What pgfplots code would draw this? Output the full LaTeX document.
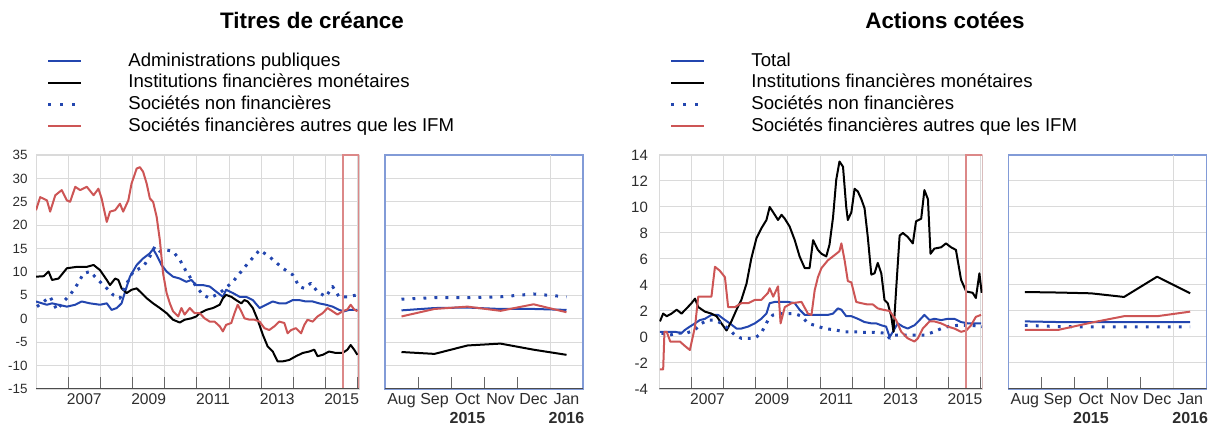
\documentclass[border=0pt]{standalone}
\usepackage{pgfplots}
\pgfplotsset{compat=1.18}
\usepackage{fontspec}
\setmainfont{Liberation Sans}
\definecolor{cblue}{RGB}{35,70,175}
\definecolor{cred}{RGB}{205,85,85}
\definecolor{cgrid}{RGB}{218,218,218}
\definecolor{cframe}{RGB}{130,155,215}
\definecolor{ctext}{RGB}{45,45,45}
\pgfplotsset{
  common/.style={scale only axis, height=117pt, anchor=north west, no markers,
    grid=major, grid style={draw=cgrid, line width=0.5pt},
    xtick pos=left, ytick pos=left, tick align=inside,
    ytick style={draw=none},
    xtick style={draw=black!60, line width=0.5pt},
    every axis plot/.append style={line join=round}},
  mainax/.style={common, width=161.5pt, xmin=2006, xmax=2016.04,
    axis line style={draw=cgrid},
    xtick={2006,...,2016}, xticklabels={}, minor x tick num=7,
    major tick length=6pt, minor tick length=3pt,
    extra x ticks={2007.5,2009.5,2011.5,2013.5,2015.5},
    extra x tick labels={2007,2009,2011,2013,2015},
    extra x tick style={grid=none, major tick length=0pt, minor x tick num=0},
    xticklabel style={font=\fontsize{7.8}{8}\selectfont, text=ctext, inner sep=0pt, yshift=-2.2pt},
    legend style={draw=none, fill=none, inner sep=0pt, outer sep=0pt, row sep=0pt,
      anchor=north west, font=\fontsize{9.3}{10}\selectfont,
      nodes={inner sep=0pt, text height=6.8pt, text depth=2pt}},
    legend cell align=left,
    legend image code/.code={\draw[##1, line width=1.1pt] (0pt,0.2pt) -- (16.5pt,0.2pt); \path[draw=none,fill=none] (0pt,-5.2pt) rectangle (40pt,5.65pt);}},
  zoomax/.style={common, width=99pt, xmin=0, xmax=6,
    axis line style={draw=cframe, line width=0.6pt},
    xmajorgrids=false,
    xtick={1,2,3,4,5}, xticklabels={}, major tick length=6pt,
    extra x ticks={0.5,1.5,2.5,3.5,4.5,5.5},
    extra x tick labels={Aug,Sep,{Oct\\\textbf{2015}},Nov,Dec,{Jan\\\textbf{2016}}},
    extra x tick style={major tick length=0pt, xmajorgrids=false},
    xticklabel style={font=\fontsize{8}{9.3}\selectfont, text=ctext, align=center, inner sep=0pt, yshift=-2.2pt},
    yticklabels={}},
  sblue/.style={cblue, line width=1pt},
  sblack/.style={black, line width=1pt},
  sdot/.style={cblue, line width=1.5pt, dash pattern=on 1.4pt off 3pt},
  sdotz/.style={cblue, line width=1.5pt, dash pattern=on 1.4pt off 4.1pt},
  sred/.style={cred, line width=1pt},
  dotlegend/.style={legend image code/.code={\draw[cblue, line width=1.5pt, dash pattern=on 1.5pt off 4.5pt] (0pt,0.2pt) -- (14pt,0.2pt); \path[draw=none,fill=none] (0pt,-5.2pt) rectangle (40pt,5.65pt);}},
}
\begin{document}
\begin{tikzpicture}
\useasboundingbox (0,0) rectangle (607.5pt,-213pt);
\node[font=\bfseries\fontsize{11.2}{13}\selectfont] at (156pt,-10pt) {Titres de créance};
\node[font=\bfseries\fontsize{11.2}{13}\selectfont] at (472.5pt,-10pt) {Actions cotées};

% ---------------- Left main: Titres de creance ----------------
\begin{axis}[mainax, at={(18pt,-77.5pt)},
  ymin=-15, ymax=35, ytick={-15,-10,...,35},
  yticklabels={-15,-10,-5,0,5,10,15,20,25,30,35},
  yticklabel style={font=\fontsize{6.7}{7}\selectfont, text=ctext, inner sep=0pt, xshift=-4pt},
  legend style={at={(0.034,1.448)}}]
\addplot[sblue] coordinates {
(2006.00,3.7)(2006.19,3.3)(2006.34,3.0)(2006.50,3.3)(2006.70,3.0)(2006.96,2.6)(2007.22,3.0)(2007.42,3.7)(2007.68,3.3)(2007.99,3.0)
(2008.20,3.3)(2008.35,1.9)(2008.51,2.3)(2008.66,3.3)(2008.77,5.8)(2008.92,9.0)(2009.13,11.5)(2009.33,12.9)(2009.54,14.0)(2009.64,14.9)
(2009.75,13.6)(2009.90,11.5)(2010.06,10.1)(2010.26,9.0)(2010.47,8.6)(2010.67,7.9)(2010.83,8.3)(2010.98,7.2)(2011.19,7.2)(2011.40,6.9)
(2011.60,5.8)(2011.81,4.7)(2011.91,6.2)(2012.12,5.5)(2012.33,4.7)(2012.53,4.7)(2012.74,4.0)(2012.95,2.3)(2013.15,3.0)(2013.36,3.7)
(2013.56,3.3)(2013.77,3.3)(2013.98,4.0)(2014.18,4.0)(2014.39,3.7)(2014.60,3.7)(2014.80,3.3)(2015.01,3.0)(2015.22,2.6)(2015.42,1.9)
(2015.58,1.6)(2015.73,1.9)(2015.89,1.9)(2015.99,1.9)};
\addlegendentry{Administrations publiques}
\addplot[sblack] coordinates {
(2006.00,9.0)(2006.24,9.1)(2006.39,10.1)(2006.50,8.3)(2006.70,8.6)(2006.96,10.8)(2007.27,11.1)(2007.58,11.1)(2007.79,11.5)(2007.99,10.4)
(2008.20,8.3)(2008.30,7.2)(2008.46,8.6)(2008.56,8.3)(2008.66,6.5)(2008.82,5.5)(2008.97,6.2)(2009.13,6.5)(2009.28,5.5)(2009.44,4.4)
(2009.64,3.3)(2009.85,2.3)(2010.06,1.2)(2010.26,-0.2)(2010.47,-0.8)(2010.62,-0.2)(2010.83,0.1)(2010.98,0.5)(2011.09,1.2)(2011.29,1.9)
(2011.50,2.3)(2011.71,3.0)(2011.81,4.4)(2011.91,5.1)(2012.07,4.7)(2012.22,4.0)(2012.38,3.3)(2012.48,4.0)(2012.58,3.7)(2012.74,2.3)
(2012.89,-0.2)(2013.05,-3.4)(2013.20,-5.9)(2013.36,-7.0)(2013.51,-9.1)(2013.67,-9.1)(2013.87,-8.8)(2014.08,-8.0)(2014.29,-7.3)(2014.49,-7.0)
(2014.65,-6.6)(2014.75,-8.0)(2014.91,-7.7)(2015.11,-7.0)(2015.32,-7.3)(2015.53,-7.3)(2015.68,-6.6)(2015.78,-5.6)(2015.89,-6.6)(2015.99,-7.7)};
\addlegendentry{Institutions financières monétaires}
\addplot[sdot, dotlegend] coordinates {
(2006.03,2.6)(2006.44,4.7)(2006.65,1.9)(2006.86,3.7)(2007.06,5.1)(2007.27,7.2)(2007.48,9.7)(2007.68,10.1)(2007.89,8.6)(2008.20,6.5)
(2008.40,5.1)(2008.61,4.4)(2008.77,6.9)(2009.02,10.1)(2009.33,11.1)(2009.54,13.3)(2009.69,15.4)(2009.85,14.4)(2010.06,14.7)(2010.26,14.4)
(2010.47,12.6)(2010.67,10.1)(2010.98,6.9)(2011.19,5.1)(2011.40,4.4)(2011.71,5.5)(2012.12,7.9)(2012.33,9.7)(2012.58,11.8)(2012.95,14.7)
(2013.25,13.3)(2013.67,10.8)(2013.98,9.4)(2014.18,6.9)(2014.34,6.5)(2014.54,7.6)(2014.75,5.8)(2015.01,4.7)(2015.22,6.9)(2015.42,4.7)
(2015.68,4.7)(2015.99,5.1)};
\addlegendentry{Sociétés non financières}
\addplot[sred] coordinates {
(2006.00,23.2)(2006.13,26.0)(2006.34,25.3)(2006.44,22.9)(2006.60,26.4)(2006.80,27.5)(2006.96,25.3)(2007.06,25.0)(2007.22,28.2)(2007.37,27.5)
(2007.58,28.2)(2007.79,26.4)(2007.94,27.8)(2008.04,25.7)(2008.20,20.7)(2008.30,22.9)(2008.46,23.2)(2008.61,24.6)(2008.71,22.9)(2008.87,25.3)
(2008.97,28.9)(2009.13,32.1)(2009.23,32.4)(2009.33,31.4)(2009.44,28.9)(2009.54,25.7)(2009.64,25.0)(2009.75,21.8)(2009.85,16.8)(2009.95,9.7)
(2010.06,5.5)(2010.16,3.3)(2010.26,1.6)(2010.42,0.5)(2010.52,2.3)(2010.62,0.9)(2010.78,2.3)(2010.93,1.2)(2011.09,1.2)(2011.24,0.1)
(2011.40,-0.6)(2011.55,-0.6)(2011.71,-1.6)(2011.81,-2.7)(2011.91,-1.3)(2012.07,-0.9)(2012.17,1.2)(2012.27,3.0)(2012.38,1.6)(2012.48,0.1)
(2012.64,-0.2)(2012.79,-0.2)(2012.95,-0.6)(2013.10,-2.0)(2013.25,-2.4)(2013.41,-1.6)(2013.56,-0.6)(2013.72,-0.9)(2013.82,-3.1)(2013.93,-2.4)
(2014.08,-2.0)(2014.24,-3.1)(2014.34,-1.3)(2014.44,-0.2)(2014.60,-0.6)(2014.75,0.5)(2014.91,1.2)(2015.06,2.3)(2015.22,1.6)(2015.37,0.9)
(2015.53,1.6)(2015.68,2.0)(2015.78,3.0)(2015.89,2.0)(2015.99,1.6)};
\addlegendentry{Sociétés financières autres que les IFM}
\draw[cred!70, line width=0.6pt] (axis cs:2015.54,-15) rectangle (axis cs:2016.04,35);
\draw[black!70, line width=0.7pt] (axis description cs:0,0) -- (axis description cs:1,0);
\end{axis}

% ---------------- Left zoom ----------------
\begin{axis}[zoomax, at={(192.5pt,-77.5pt)},
  ymin=-15, ymax=35, ytick={-15,-10,...,35}]
\draw[cgrid, line width=0.5pt] (axis cs:5,-15) -- (axis cs:5,35);
\addplot[sblue] coordinates {(0.5,1.8)(1.5,2.3)(2.5,2.4)(3.5,2.1)(4.5,2.1)(5.5,1.9)};
\addplot[sblack] coordinates {(0.5,-7.1)(1.5,-7.5)(2.5,-5.7)(3.5,-5.3)(4.5,-6.6)(5.5,-7.7)};
\addplot[sdotz] coordinates {(0.5,4.2)(1.5,4.5)(2.5,4.5)(3.5,4.7)(4.5,5.3)(5.5,4.7)};
\addplot[sred] coordinates {(0.5,0.5)(1.5,2.1)(2.5,2.6)(3.5,1.7)(4.5,3.1)(5.5,1.4)};
\draw[black!70, line width=0.7pt] (axis description cs:0,0) -- (axis description cs:1,0);
\end{axis}

% ---------------- Right main: Actions cotees ----------------
\begin{axis}[mainax, at={(329.65pt,-77.5pt)},
  ymin=-4, ymax=14, ytick={-4,-2,...,14},
  yticklabels={-4,-2,0,2,4,6,8,10,12,14},
  yticklabel style={font=\fontsize{7.5}{8}\selectfont, text=ctext, inner sep=0pt, xshift=-5.5pt},
  legend style={at={(0.033,1.448)}}]
\addplot[sblue] coordinates {
(2006.02,0.4)(2006.28,0.4)(2006.49,0.4)(2006.69,0.3)(2006.80,0.55)(2006.95,0.8)(2007.11,1.05)(2007.26,1.3)(2007.42,1.4)(2007.62,1.7)
(2007.83,1.7)(2007.99,1.4)(2008.19,1.05)(2008.40,0.65)(2008.55,0.65)(2008.76,0.8)(2008.97,1.05)(2009.17,1.4)(2009.33,1.8)(2009.43,2.6)
(2009.59,2.7)(2009.80,2.7)(2010.00,2.7)(2010.21,2.6)(2010.36,2.1)(2010.52,1.7)(2010.73,1.7)(2010.93,1.7)(2011.09,1.7)(2011.24,1.7)
(2011.40,1.8)(2011.55,2.2)(2011.66,2.1)(2011.81,1.6)(2011.97,1.6)(2012.17,1.4)(2012.38,1.15)(2012.59,1.05)(2012.74,1.05)(2012.90,0.9)
(2013.05,0.8)(2013.16,0.0)(2013.26,0.4)(2013.41,1.05)(2013.57,0.8)(2013.72,0.65)(2013.93,0.9)(2014.09,1.3)(2014.24,1.7)(2014.40,1.3)
(2014.55,1.4)(2014.76,1.3)(2014.97,1.4)(2015.17,1.4)(2015.38,1.15)(2015.59,1.05)(2015.79,1.05)(2016.00,1.05)};
\addlegendentry{Total}
\addplot[sblack] coordinates {
(2006.02,1.2)(2006.12,1.8)(2006.23,1.6)(2006.38,1.8)(2006.54,2.1)(2006.69,1.8)(2006.85,2.2)(2007.00,2.6)(2007.11,2.95)(2007.21,2.3)
(2007.42,1.95)(2007.62,1.8)(2007.78,1.6)(2007.93,1.05)(2008.09,0.5)(2008.24,1.2)(2008.40,2.1)(2008.55,2.85)(2008.71,4.1)(2008.86,6.05)
(2009.02,7.6)(2009.17,8.35)(2009.33,9.0)(2009.43,10.0)(2009.59,9.4)(2009.69,9.0)(2009.80,9.4)(2009.90,9.1)(2010.05,8.5)(2010.21,7.45)
(2010.36,6.2)(2010.52,5.3)(2010.67,5.3)(2010.78,7.45)(2010.93,6.7)(2011.04,6.4)(2011.19,6.2)(2011.29,7.1)(2011.40,9.2)(2011.50,12.1)
(2011.60,13.5)(2011.71,13.1)(2011.81,10.0)(2011.86,9.0)(2011.97,9.6)(2012.07,11.4)(2012.17,11.2)(2012.28,10.6)(2012.38,9.9)(2012.48,7.7)
(2012.59,4.8)(2012.69,4.9)(2012.79,5.7)(2012.90,4.9)(2013.00,2.85)(2013.10,2.6)(2013.21,1.6)(2013.28,0.4)(2013.36,3.6)(2013.47,7.8)
(2013.57,8.0)(2013.72,7.7)(2013.88,7.2)(2013.98,8.9)(2014.14,9.1)(2014.24,11.3)(2014.35,10.6)(2014.43,6.4)(2014.55,6.8)(2014.76,6.9)
(2014.91,7.2)(2015.07,6.9)(2015.22,6.7)(2015.38,4.4)(2015.54,3.5)(2015.74,3.4)(2015.84,3.0)(2015.95,4.9)(2016.02,3.4)};
\addlegendentry{Institutions financières monétaires}
\addplot[sdot, dotlegend] coordinates {
(2006.07,0.3)(2006.33,0.15)(2006.59,0.3)(2006.85,0.3)(2007.11,0.55)(2007.31,1.05)(2007.52,1.3)(2007.73,1.3)(2007.93,1.05)(2008.14,0.65)
(2008.35,0.15)(2008.55,-0.1)(2008.76,-0.1)(2008.97,-0.1)(2009.17,0.3)(2009.38,1.3)(2009.54,1.7)(2009.74,1.8)(2010.00,1.8)(2010.21,1.8)
(2010.42,1.6)(2010.62,1.05)(2010.83,0.9)(2011.14,0.65)(2011.45,0.55)(2011.76,0.4)(2012.07,0.4)(2012.38,0.35)(2012.69,0.35)(2013.00,0.3)
(2013.16,-0.1)(2013.31,0.15)(2013.62,0.15)(2013.93,0.15)(2014.24,0.15)(2014.55,0.4)(2014.76,0.65)(2014.97,0.8)(2015.28,0.9)(2015.59,0.9)
(2015.90,0.85)(2016.03,0.8)};
\addlegendentry{Sociétés non financières}
\addplot[sred] coordinates {
(2006.02,-2.5)(2006.12,-2.5)(2006.16,0.4)(2006.23,0.4)(2006.34,-0.35)(2006.64,-0.35)(2006.80,-0.7)(2006.95,-1.0)(2007.11,0.8)(2007.21,3.1)
(2007.42,3.1)(2007.62,3.1)(2007.73,5.4)(2007.88,5.1)(2008.04,4.6)(2008.14,2.3)(2008.35,2.3)(2008.55,2.6)(2008.76,2.6)(2008.97,2.85)
(2009.17,2.85)(2009.38,3.4)(2009.43,3.75)(2009.54,3.1)(2009.69,3.9)(2009.77,1.05)(2009.90,2.3)(2010.11,2.6)(2010.42,2.7)(2010.62,1.8)
(2010.73,1.7)(2010.83,3.6)(2010.93,4.6)(2011.04,5.3)(2011.24,5.9)(2011.45,6.3)(2011.60,6.6)(2011.66,7.2)(2011.76,5.9)(2011.86,4.3)
(2011.97,4.2)(2012.12,2.7)(2012.28,2.6)(2012.48,2.5)(2012.64,2.5)(2012.79,2.2)(2012.95,2.1)(2013.16,2.0)(2013.36,1.3)(2013.52,0.4)
(2013.72,-0.1)(2013.93,-0.35)(2014.04,-0.1)(2014.19,0.65)(2014.40,1.2)(2014.55,1.2)(2014.76,1.05)(2014.97,0.8)(2015.17,0.65)(2015.38,0.4)
(2015.54,0.5)(2015.69,0.9)(2015.84,1.55)(2016.00,1.7)};
\addlegendentry{Sociétés financières autres que les IFM}
\draw[cred!70, line width=0.6pt] (axis cs:2015.53,-4) rectangle (axis cs:2016.04,14);
\draw[black!70, line width=0.7pt] (axis description cs:0,0) -- (axis description cs:1,0);
\end{axis}

% ---------------- Right zoom ----------------
\begin{axis}[zoomax, at={(504.15pt,-77.5pt)}, width=99.2pt,
  ymin=-4, ymax=14, ytick={-4,-2,...,14}]
\draw[cgrid, line width=0.5pt] (axis cs:5,-4) -- (axis cs:5,14);
\addplot[sblue] coordinates {(0.5,1.2)(1.5,1.15)(2.5,1.15)(3.5,1.15)(4.5,1.15)(5.5,1.15)};
\addplot[sblack] coordinates {(0.5,3.46)(1.5,3.42)(2.5,3.36)(3.5,3.08)(4.5,4.64)(5.5,3.36)};
\addplot[sdotz] coordinates {(0.5,0.9)(1.5,0.8)(2.5,0.77)(3.5,0.77)(4.5,0.77)(5.5,0.77)};
\addplot[sred] coordinates {(0.5,0.54)(1.5,0.54)(2.5,1.1)(3.5,1.6)(4.5,1.6)(5.5,1.95)};
\draw[black!70, line width=0.7pt] (axis description cs:0,0) -- (axis description cs:1,0);
\end{axis}
\end{tikzpicture}
\end{document}
